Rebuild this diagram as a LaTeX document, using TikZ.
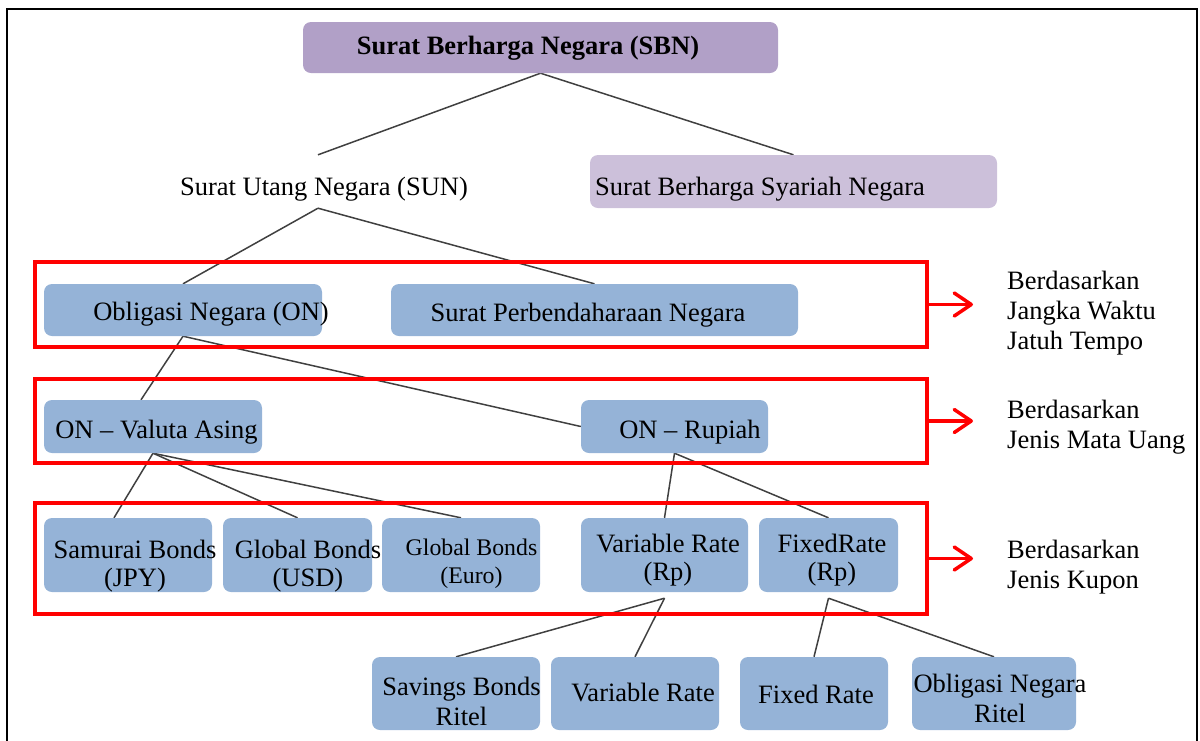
\documentclass[tikz,border=0pt]{standalone}
\usepackage{fontspec}
\setmainfont{Liberation Serif}
\usetikzlibrary{arrows.meta,backgrounds,calc}
\definecolor{sbnfill}{HTML}{B1A0C7}
\definecolor{syafill}{HTML}{CCC0DA}
\definecolor{bluefill}{HTML}{95B3D7}
\definecolor{linegray}{HTML}{404040}
\definecolor{redline}{HTML}{FF0000}
% #1 horizontal offset of text centre, #2 raise of first baseline above node centre, #3 text
\newcommand{\bt}[3]{\raisebox{#2}[0pt][0pt]{\makebox[0pt][c]{\hspace*{#1}\hspace*{#1}\begin{tabular}[t]{@{}c@{}}#3\end{tabular}}}}
\begin{document}
\begin{tikzpicture}[x=1pt,y=-1pt,
  rbox/.style={rounded corners=8pt, inner sep=0pt, draw=none},
  bluebox/.style={rbox, fill=bluefill},
  txt/.style={font=\fontsize{26.5}{28}\selectfont},
  txtw/.style={font=\fontsize{26.5}{30}\selectfont},
  conn/.style={draw=linegray, line width=1.5pt},
  redbox/.style={draw=redline, line width=3.5pt, inner sep=0pt},
  redarrow/.style={draw=redline, line width=3.5pt, -{Straight Barb[length=17pt,width=23pt,round]}},
  side/.style={anchor=base west, inner sep=0pt, font=\fontsize{26.5}{30}\selectfont}]
\useasboundingbox (0,0) rectangle (1200,740);
% outer frame
\draw[line width=2pt] (7,750) -- (7,9) -- (1197,9) -- (1197,750);

% boxes
\node[rbox, fill=sbnfill, minimum width=475pt, minimum height=51pt, font=\bfseries\fontsize{26.5}{28}\selectfont] (sbn) at (540.5,47.5) {\bt{-12.5pt}{-7pt}{Surat Berharga Negara (SBN)}};
\node[inner sep=0pt, minimum width=290pt, minimum height=53pt, txt] (sun) at (318,181.5) {\bt{6pt}{-13.5pt}{Surat Utang Negara (SUN)}};
\node[rbox, fill=syafill, minimum width=407pt, minimum height=53pt, txt] (sbsn) at (793.5,181.5) {\bt{-33.5pt}{-13.5pt}{Surat Berharga Syariah Negara}};
\node[bluebox, minimum width=278pt, minimum height=52pt, txt] (on) at (183,310) {\bt{28pt}{-10.5pt}{Obligasi Negara (ON)}};
\node[bluebox, minimum width=407pt, minimum height=52pt, txt] (spn) at (594.5,310) {\bt{-6.5pt}{-11pt}{Surat Perbendaharaan Negara}};
\node[bluebox, minimum width=218pt, minimum height=53pt, txt] (valas) at (153,426.5) {\bt{3.5pt}{-11.5pt}{ON – Valuta Asing}};
\node[bluebox, minimum width=187pt, minimum height=53pt, txt] (rupiah) at (674.5,426.5) {\bt{15.5pt}{-11.5pt}{ON – Rupiah}};
\node[bluebox, minimum width=168pt, minimum height=74pt, txt] (samurai) at (128,555) {\bt{7pt}{-3pt}{Samurai Bonds\\(JPY)}};
\node[bluebox, minimum width=149pt, minimum height=74pt, txt] (usd) at (297.5,555) {\bt{10.5pt}{-3pt}{Global Bonds\\(USD)}};
\node[bluebox, minimum width=158pt, minimum height=74pt, font=\fontsize{23.8}{28}\selectfont] (euro) at (461,555) {\bt{10.5pt}{0pt}{Global Bonds\\(Euro)}};
\node[bluebox, minimum width=167pt, minimum height=74pt, txt] (varrp) at (664.5,555) {\bt{3.5pt}{3pt}{Variable Rate\\(Rp)}};
\node[bluebox, minimum width=139pt, minimum height=74pt, txt] (fixrp) at (828.5,555) {\bt{3.5pt}{3pt}{FixedRate\\(Rp)}};
\node[bluebox, minimum width=168pt, minimum height=73pt, txtw] (sbr) at (456,693.5) {\bt{5.5pt}{-1.5pt}{Savings Bonds\\Ritel}};
\node[bluebox, minimum width=168pt, minimum height=73pt, txt] (varb) at (635,693.5) {\bt{8pt}{-7.5pt}{Variable Rate}};
\node[bluebox, minimum width=148pt, minimum height=73pt, txt] (fixb) at (814,693.5) {\bt{2pt}{-9.5pt}{Fixed Rate}};
\node[bluebox, minimum width=164pt, minimum height=73pt, txtw] (onr) at (994,693.5) {\bt{6pt}{1.5pt}{Obligasi Negara\\Ritel}};

% connectors
\begin{pgfonlayer}{background}
\draw[conn] (sbn.south) -- (sun.north);
\draw[conn] (sbn.south) -- (sbsn.north);
\draw[conn] (sun.south) -- (on.north);
\draw[conn] (sun.south) -- (spn.north);
\draw[conn] (on.south) -- ([xshift=-12pt]valas.north);
\draw[conn] (on.south) -- (rupiah.west);
\draw[conn] (valas.south) -- ([xshift=-14pt]samurai.north);
\draw[conn] (valas.south) -- (usd.north);
\draw[conn] (valas.south) -- (euro.north);
\draw[conn] (rupiah.south) -- (varrp.north);
\draw[conn] (rupiah.south) -- (fixrp.north);
\draw[conn] ([yshift=-6pt]varrp.south) -- (sbr.north);
\draw[conn] ([yshift=-6pt]varrp.south) -- (varb.north);
\draw[conn] ([yshift=-6pt]fixrp.south) -- (fixb.north);
\draw[conn] ([yshift=-6pt]fixrp.south) -- (onr.north);
\end{pgfonlayer}

% red groups
\node[redbox, minimum width=892pt, minimum height=85pt] (grp1) at (481,304.5) {};
\node[redbox, minimum width=892pt, minimum height=84pt] (grp2) at (481,421) {};
\node[redbox, minimum width=892pt, minimum height=111pt] (grp3) at (481,558.5) {};
\coordinate (a1) at (973,304.5);
\coordinate (a2) at (973,421);
\coordinate (a3) at (973,558.5);
\draw[redarrow] (grp1.east) -- (a1);
\draw[redarrow] (grp2.east) -- (a2);
\draw[redarrow] (grp3.east) -- (a3);

% side labels
\node[side] (lab1) at (1007,289) {\begin{tabular}[t]{@{}l@{}}Berdasarkan\\Jangka Waktu\\Jatuh Tempo\end{tabular}};
\node[side] (lab2) at (1007,418) {\begin{tabular}[t]{@{}l@{}}Berdasarkan\\Jenis Mata Uang\end{tabular}};
\node[side] (lab3) at (1007,558) {\begin{tabular}[t]{@{}l@{}}Berdasarkan\\Jenis Kupon\end{tabular}};
\end{tikzpicture}
\end{document}
